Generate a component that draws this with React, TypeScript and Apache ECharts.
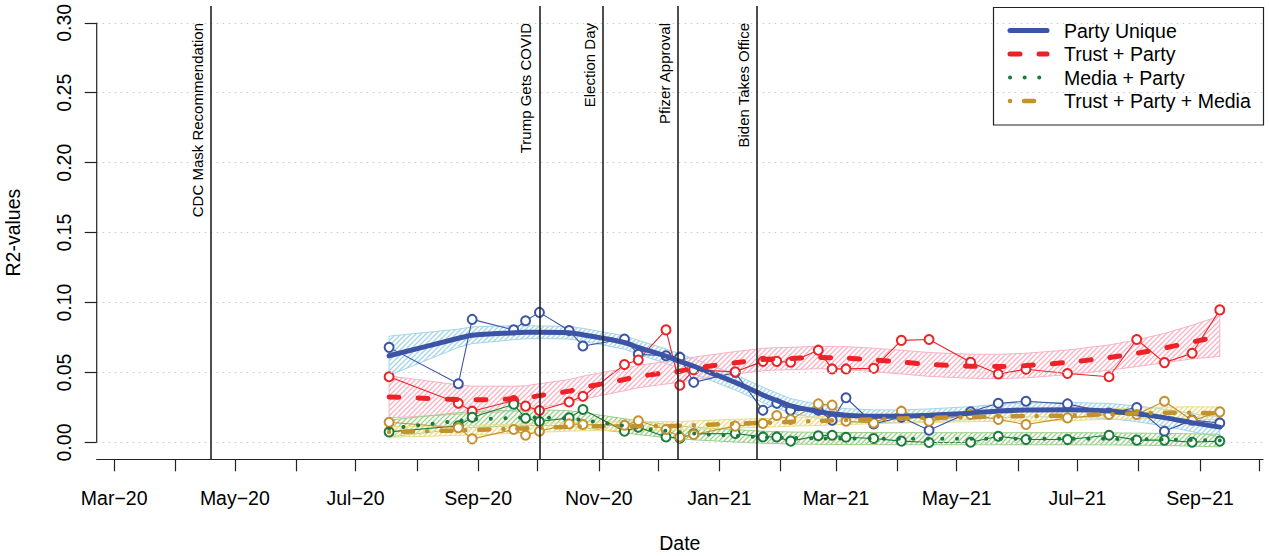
import React, { useEffect, useRef } from 'react';
import * as echarts from 'echarts';

// ---------- data ----------
const DATES = ['2020-07-18','2020-08-22','2020-08-29','2020-09-19','2020-09-25','2020-10-02','2020-10-17','2020-10-24','2020-11-14','2020-11-21','2020-12-05','2020-12-12','2020-12-19','2021-01-09','2021-01-23','2021-01-30','2021-02-06','2021-02-20','2021-02-27','2021-03-06','2021-03-20','2021-04-03','2021-04-17','2021-05-08','2021-05-22','2021-06-05','2021-06-26','2021-07-17','2021-07-31','2021-08-14','2021-08-28','2021-09-11'];

const SERIES_NAMES = ['Party Unique', 'Trust + Party', 'Media + Party', 'Trust + Party + Media'];

// observed R2 values (circles)
const PARTY_UNIQUE = [0.068,0.042,0.088,0.0805,0.087,0.093,0.080,0.069,0.074,0.063,0.062,0.061,0.043,0.050,0.023,0.028,0.023,0.023,0.016,0.032,0.0133,0.018,0.0088,0.022,0.028,0.0295,0.0276,0.021,0.025,0.008,0.016,0.014];
const TRUST_PARTY = [0.047,0.028,0.0224,0.030,0.026,0.0229,0.029,0.033,0.0557,0.059,0.0805,0.041,0.052,0.0505,0.058,0.058,0.0574,0.066,0.0526,0.0526,0.053,0.073,0.0736,0.0574,0.049,0.0524,0.0493,0.047,0.0736,0.0571,0.0638,0.0948];
const MEDIA_PARTY = [0.0076,0.012,0.018,0.0273,0.0173,0.015,0.0176,0.0236,0.0081,0.011,0.004,0.003,0.0062,0.0064,0.004,0.004,0.001,0.0048,0.0052,0.0038,0.0029,0.001,0.0,0.0002,0.0045,0.0021,0.0021,0.0052,0.0017,0.0017,0.0002,0.001];
const TRUST_PARTY_MEDIA = [0.0145,0.0105,0.0026,0.0093,0.0052,0.008,0.0133,0.0129,0.0124,0.0155,0.0093,0.004,0.0057,0.0117,0.0136,0.0193,0.0164,0.0276,0.0267,0.0152,0.014,0.0224,0.0152,0.020,0.0164,0.0129,0.0176,0.020,0.020,0.0295,0.0157,0.0219];

// smoothed fits
const FIT_PARTY_UNIQUE = [0.062,0.0745,0.0767,0.0785,0.0788,0.0788,0.0785,0.077,0.0715,0.068,0.0617,0.058,0.0545,0.043,0.034,0.030,0.0262,0.0222,0.0205,0.0195,0.0188,0.0188,0.0195,0.021,0.0225,0.0233,0.0235,0.0225,0.0205,0.0178,0.0142,0.011];
const FIT_TRUST_PARTY = [0.0326,0.0307,0.0305,0.0312,0.0318,0.0335,0.0367,0.0392,0.045,0.0472,0.0498,0.051,0.053,0.057,0.0593,0.0598,0.060,0.0608,0.0606,0.0603,0.059,0.0575,0.0558,0.0545,0.0543,0.055,0.0573,0.0607,0.0638,0.0675,0.0718,0.076];
const FIT_MEDIA_PARTY = [0.010,0.0155,0.0165,0.0175,0.0178,0.0178,0.0172,0.016,0.012,0.0105,0.0083,0.0073,0.0064,0.0048,0.0038,0.0035,0.0032,0.003,0.0029,0.0029,0.0028,0.0027,0.0027,0.0027,0.0027,0.0027,0.0027,0.0026,0.0024,0.0022,0.0018,0.0014];
const FIT_TRUST_PARTY_MEDIA = [0.0075,0.0086,0.0089,0.0098,0.0101,0.0105,0.0112,0.0115,0.0117,0.0117,0.0118,0.012,0.0123,0.0135,0.014,0.0143,0.0148,0.0153,0.0157,0.016,0.0166,0.0172,0.0176,0.0182,0.0186,0.0189,0.0193,0.0202,0.0208,0.0212,0.0212,0.0208];

// confidence half-widths
const HW_PARTY_UNIQUE = [0.014,0.0065,0.006,0.005,0.0047,0.0045,0.0045,0.0046,0.0048,0.005,0.0052,0.0053,0.0054,0.0055,0.0055,0.0054,0.0052,0.005,0.0048,0.0047,0.0045,0.0045,0.0045,0.0046,0.0048,0.005,0.0052,0.0054,0.0056,0.006,0.0065,0.007];
const HW_TRUST_PARTY = [0.015,0.0105,0.0098,0.009,0.0088,0.0085,0.0083,0.0082,0.008,0.008,0.008,0.008,0.008,0.008,0.008,0.008,0.008,0.008,0.008,0.0082,0.0084,0.0085,0.0085,0.0086,0.0087,0.0088,0.0088,0.009,0.0095,0.0105,0.012,0.0145];
const HW_MEDIA_PARTY = [0.006,0.0058,0.0057,0.0056,0.0056,0.0056,0.0055,0.0054,0.005,0.0049,0.0047,0.0046,0.0045,0.0044,0.0043,0.0043,0.0043,0.0043,0.0043,0.0043,0.0043,0.0043,0.0043,0.0043,0.0043,0.0043,0.0043,0.0043,0.0043,0.0043,0.0044,0.0045];
const HW_TRUST_PARTY_MEDIA = [0.0038,0.0035,0.0034,0.0033,0.0032,0.0032,0.0031,0.0031,0.0031,0.0031,0.0031,0.0031,0.0031,0.0031,0.0031,0.0031,0.0031,0.0031,0.0031,0.0031,0.0032,0.0032,0.0033,0.0033,0.0034,0.0035,0.0036,0.0037,0.0039,0.0041,0.0043,0.0046];

const EVENT_NAMES = ['CDC Mask Recommendation', 'Trump Gets COVID', 'Election Day', 'Pfizer Approval', 'Biden Takes Office'];
const EVENT_DATES = ['2020-04-19', '2020-10-02', '2020-11-03', '2020-12-11', '2021-01-20'];

const TICK_MONTHS = ['2020-03-01','2020-04-01','2020-05-01','2020-06-01','2020-07-01','2020-08-01','2020-09-01','2020-10-01','2020-11-01','2020-12-01','2021-01-01','2021-02-01','2021-03-01','2021-04-01','2021-05-01','2021-06-01','2021-07-01','2021-08-01','2021-09-01','2021-10-01'];
const LABEL_MONTHS = ['2020-03-01','2020-05-01','2020-07-01','2020-09-01','2020-11-01','2021-01-01','2021-03-01','2021-05-01','2021-07-01','2021-09-01'];
const Y_TICKS = [0, 0.05, 0.10, 0.15, 0.20, 0.25, 0.30];

// ---------- helpers ----------
const DAY = 86400000;
const ts = (s: string) => { const [y, m, d] = s.split('-').map(Number); return Date.UTC(y, m - 1, d); };
const X_MIN = ts('2020-03-01') - 8.84 * DAY;
const X_MAX = ts('2020-03-01') + 580.84 * DAY;
const Y_MIN = -0.012;
const Y_MAX = 0.312;
const MONTHS = ['Jan','Feb','Mar','Apr','May','Jun','Jul','Aug','Sep','Oct','Nov','Dec'];
const FONT = '"Liberation Sans", Arial, Helvetica, sans-serif';

const COLORS = ['#3B54A5', '#EC2227', '#1B7B3C', '#C4912F'];
const BAND_COLORS = ['#A3D5E8', '#F7B3C4', '#9BD088', '#ECDD86'];
const DASHES: any[] = ['solid', [10, 19], [0.1, 14.5], [0.1, 14, 10, 14]];
const WIDTHS = [5, 5, 4, 4.5];

const OBS = [PARTY_UNIQUE, TRUST_PARTY, MEDIA_PARTY, TRUST_PARTY_MEDIA];
const FITS = [FIT_PARTY_UNIQUE, FIT_TRUST_PARTY, FIT_MEDIA_PARTY, FIT_TRUST_PARTY_MEDIA];
const HWS = [HW_PARTY_UNIQUE, HW_TRUST_PARTY, HW_MEDIA_PARTY, HW_TRUST_PARTY_MEDIA];

function hatch(color: string) {
  const svg = `<svg xmlns='http://www.w3.org/2000/svg' width='5' height='5'><path d='M-1,1 L1,-1 M0,5 L5,0 M4,6 L6,4' stroke='${color}' stroke-width='1.3' fill='none'/></svg>`;
  return { image: 'data:image/svg+xml;charset=utf-8,' + encodeURIComponent(svg), repeat: 'repeat', imageWidth: 5, imageHeight: 5 };
}

function buildOption() {
  const series: any[] = [];

  // gridlines
  series.push({
    type: 'line', name: 'grid', z: 1, silent: true, symbol: 'none',
    data: [[X_MIN, 0]],
    markLine: {
      silent: true, symbol: ['none', 'none'], label: { show: false },
      lineStyle: { color: '#c9c9c9', width: 1, type: [1.5, 4.5] },
      data: Y_TICKS.map((v) => ({ yAxis: v })),
    },
  });

  // bands
  FITS.forEach((fit, k) => {
    const hw = HWS[k];
    const pattern = hatch(BAND_COLORS[k]);
    series.push({
      type: 'custom', name: SERIES_NAMES[k] + ' band', z: 2, silent: true,
      data: [[ts(DATES[0]), fit[0]]],
      encode: { x: 0, y: 1 },
      renderItem: (params: any, api: any) => {
        const upper = DATES.map((d, i) => api.coord([ts(d), fit[i] + hw[i]]));
        const lower = DATES.map((d, i) => api.coord([ts(d), fit[i] - hw[i]])).reverse();
        return {
          type: 'polygon',
          shape: { points: upper.concat(lower) },
          style: { fill: pattern, stroke: BAND_COLORS[k], lineWidth: 1 },
        };
      },
    });
  });

  // observed points with thin connecting lines
  OBS.forEach((arr, k) => {
    series.push({
      type: 'line', name: SERIES_NAMES[k] + ' obs', z: 3, silent: true,
      data: DATES.map((d, i) => [ts(d), arr[i]]),
      symbol: 'emptyCircle', symbolSize: 9, showSymbol: true,
      itemStyle: { color: COLORS[k], borderColor: COLORS[k], borderWidth: 1.1 },
      lineStyle: { color: COLORS[k], width: 1.1 },
    });
  });

  // fitted lines
  FITS.forEach((fit, k) => {
    series.push({
      type: 'line', name: SERIES_NAMES[k], z: 4, silent: true,
      data: DATES.map((d, i) => [ts(d), fit[i]]),
      symbol: 'none', smooth: 0.3,
      lineStyle: { color: COLORS[k], width: WIDTHS[k], type: DASHES[k], cap: 'round' },
    });
  });

  // y axis line + event lines
  series.push({
    type: 'line', name: 'yaxis', z: 5, silent: true, clip: false, symbol: 'none',
    data: [[X_MIN, 0], [X_MIN, 0.3]],
    lineStyle: { color: '#222', width: 1.2 },
    markLine: {
      silent: true, symbol: ['none', 'none'],
      lineStyle: { color: '#222', width: 1.6, type: 'solid' },
      data: EVENT_DATES.map((d, i) => [
        {
          coord: [ts(d), Y_MIN],
          label: {
            show: true, position: 'insideEndTop', formatter: EVENT_NAMES[i],
            color: '#000', fontSize: 15, fontFamily: FONT, distance: 6, padding: [0, 11, 0, 0],
          },
        },
        { coord: [ts(d), Y_MAX] },
      ]),
    },
  });

  const legendRows = [30.5, 54, 77.5, 101];
  const legendChildren: any[] = [
    { type: 'rect', shape: { x: 993.5, y: 7.5, width: 270, height: 117.5 }, style: { fill: '#fff', stroke: '#222', lineWidth: 1.2 } },
  ];
  SERIES_NAMES.forEach((n, k) => {
    legendChildren.push({
      type: 'line', shape: { x1: 1010, y1: legendRows[k], x2: 1047, y2: legendRows[k] },
      style: { stroke: COLORS[k], lineWidth: WIDTHS[k], lineDash: DASHES[k] === 'solid' ? null : DASHES[k], lineCap: 'round' },
    });
    legendChildren.push({
      type: 'text', x: 1064, y: legendRows[k],
      style: { text: n, fill: '#000', font: `19.5px ${FONT}`, fontSize: 19.5, fontFamily: FONT, verticalAlign: 'middle', align: 'left' },
    });
  });

  return {
    animation: false,
    backgroundColor: '#fff',
    textStyle: { fontFamily: FONT },
    grid: { left: 96.7, right: 6, top: 6, bottom: 96.7, containLabel: false, outerBoundsMode: 'none' },
    xAxis: {
      type: 'value', min: X_MIN, max: X_MAX,
      name: 'Date', nameLocation: 'middle', nameGap: 74,
      nameTextStyle: { fontSize: 19.5, color: '#000', fontFamily: FONT },
      axisLine: { show: true, onZero: false, lineStyle: { color: '#222', width: 1.2 } },
      axisTick: { show: true, length: 12, lineStyle: { color: '#222', width: 1.2 }, customValues: TICK_MONTHS.map(ts) },
      axisLabel: {
        show: true, margin: 28.5, fontSize: 19.5, color: '#000', fontFamily: FONT,
        customValues: LABEL_MONTHS.map(ts),
        formatter: (v: number) => { const d = new Date(v); return MONTHS[d.getUTCMonth()] + '\u2212' + String(d.getUTCFullYear()).slice(2); },
      },
      splitLine: { show: false },
    },
    yAxis: {
      type: 'value', min: Y_MIN, max: Y_MAX,
      name: 'R2-values', nameLocation: 'middle', nameGap: 74,
      nameTextStyle: { fontSize: 19.5, color: '#000', fontFamily: FONT },
      axisLine: { show: false, onZero: false },
      axisTick: { show: true, length: 12, lineStyle: { color: '#222', width: 1.2 }, customValues: Y_TICKS },
      axisLabel: {
        show: true, rotate: 90, margin: 23, fontSize: 19.5, color: '#000', fontFamily: FONT,
        customValues: Y_TICKS, formatter: (v: number) => v.toFixed(2),
      },
      splitLine: { show: false },
    },
    graphic: [{ type: 'group', z: 100, children: legendChildren }],
    series,
  };
}

export default function App() {
  const ref = useRef<HTMLDivElement>(null);
  useEffect(() => {
    if (!ref.current) return;
    const chart = echarts.init(ref.current, null, { renderer: 'svg' });
    chart.setOption(buildOption() as any);
    return () => chart.dispose();
  }, []);
  return (
    <div
      ref={ref}
      style={{ position: 'fixed', left: 0, top: 0, width: 1269, height: 556, background: '#fff' }}
    />
  );
}
